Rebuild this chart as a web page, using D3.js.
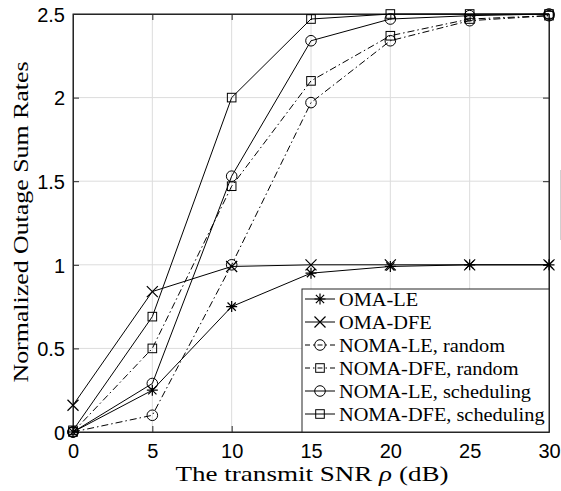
<!DOCTYPE html>
<html>
<head>
<meta charset="utf-8">
<script src="https://cdn.jsdelivr.net/npm/d3@7"></script>
<style>
  body { margin: 0; background: #fff; }
  svg { display: block; }
  .tick-label { font-family: "Liberation Sans", Arial, sans-serif; font-size: 20px; fill: #000; }
  .serif { font-family: "Liberation Serif", "Times New Roman", serif; fill: #000; }
</style>
</head>
<body>
<svg width="561" height="491"></svg>
<script>
const snr = [0, 5, 10, 15, 20, 25, 30];

const omaLE = [0, 0.25, 0.75, 0.95, 0.99, 1.0, 1.0];
const omaDFE = [0.16, 0.84, 0.99, 1.0, 1.0, 1.0, 1.0];
const nomaLERandom = [0, 0.10, 1.0, 1.97, 2.34, 2.46, 2.49];
const nomaDFERandom = [0, 0.50, 1.47, 2.10, 2.37, 2.47, 2.49];
const nomaLESched = [0, 0.29, 1.53, 2.34, 2.47, 2.49, 2.50];
const nomaDFESched = [0.01, 0.69, 2.0, 2.47, 2.50, 2.50, 2.50];

const xTicks = [0, 5, 10, 15, 20, 25, 30];
const yTicks = [0, 0.5, 1, 1.5, 2, 2.5];

const series = [
    {name: 'OMA-LE', values: omaLE, marker: 'star', dash: null},
    {name: 'OMA-DFE', values: omaDFE, marker: 'cross', dash: null},
    {name: 'NOMA-LE, random', values: nomaLERandom, marker: 'circle', dash: '7,3,1.5,3'},
    {name: 'NOMA-DFE, random', values: nomaDFERandom, marker: 'square', dash: '7,3,1.5,3'},
    {name: 'NOMA-LE, scheduling', values: nomaLESched, marker: 'circle', dash: null},
    {name: 'NOMA-DFE, scheduling', values: nomaDFESched, marker: 'square', dash: null}
];

const svg = d3.select('svg');
const margin = {left: 73, top: 14, right: 549, bottom: 432};

const x = d3.scaleLinear().domain([0, 30]).range([margin.left, margin.right]);
const y = d3.scaleLinear().domain([0, 2.5]).range([margin.bottom, margin.top]);

// grid
const grid = svg.append('g').attr('stroke', '#dcdcdc').attr('stroke-width', 1);
grid.selectAll('.gx').data(xTicks).enter().append('line')
    .attr('x1', d => x(d)).attr('x2', d => x(d))
    .attr('y1', margin.top).attr('y2', margin.bottom);
grid.selectAll('.gy').data(yTicks).enter().append('line')
    .attr('x1', margin.left).attr('x2', margin.right)
    .attr('y1', d => y(d)).attr('y2', d => y(d));

// axes, ticks inward
const tickLen = 6;
svg.append('g')
    .attr('transform', `translate(0,${margin.bottom})`)
    .call(d3.axisBottom(x).tickValues(xTicks).tickSizeInner(-tickLen).tickSizeOuter(0).tickPadding(12));
const axisLeft = svg.append('g')
    .attr('transform', `translate(${margin.left},0)`)
    .call(d3.axisLeft(y).tickValues(yTicks).tickFormat(d3.format('')).tickSizeInner(-tickLen).tickSizeOuter(0).tickPadding(8));
svg.append('g')
    .attr('transform', `translate(0,${margin.top})`)
    .call(d3.axisTop(x).tickValues(xTicks).tickSizeInner(-tickLen).tickSizeOuter(0).tickFormat(''));
svg.append('g')
    .attr('transform', `translate(${margin.right},0)`)
    .call(d3.axisRight(y).tickValues(yTicks).tickSizeInner(-tickLen).tickSizeOuter(0).tickFormat(''));

svg.selectAll('.domain').attr('stroke', '#262626');
svg.selectAll('.tick line').attr('stroke', '#262626');
svg.selectAll('.tick text').attr('class', 'tick-label').attr('fill', '#000');
axisLeft.selectAll('text').attr('dy', '0.36em');

// plot box
svg.append('rect')
    .attr('x', margin.left).attr('y', margin.top)
    .attr('width', margin.right - margin.left).attr('height', margin.bottom - margin.top)
    .attr('fill', 'none').attr('stroke', '#262626').attr('stroke-width', 1);

// markers
function drawMarker(g, type, cx, cy) {
    if (type === 'circle') {
        g.append('circle').attr('cx', cx).attr('cy', cy).attr('r', 5.3)
            .attr('fill', 'none').attr('stroke', '#000').attr('stroke-width', 1);
    } else if (type === 'square') {
        g.append('rect').attr('x', cx - 4.3).attr('y', cy - 4.3).attr('width', 8.6).attr('height', 8.6)
            .attr('fill', 'none').attr('stroke', '#000').attr('stroke-width', 1);
    } else if (type === 'cross') {
        const s = 5.5;
        g.append('path').attr('d', `M${cx - s},${cy - s}L${cx + s},${cy + s}M${cx - s},${cy + s}L${cx + s},${cy - s}`)
            .attr('stroke', '#000').attr('stroke-width', 1.2);
    } else if (type === 'star') {
        const s = 5.5, d = s * 0.75;
        g.append('path').attr('d', `M${cx - s},${cy}L${cx + s},${cy}M${cx},${cy - s}L${cx},${cy + s}` +
            `M${cx - d},${cy - d}L${cx + d},${cy + d}M${cx - d},${cy + d}L${cx + d},${cy - d}`)
            .attr('stroke', '#000').attr('stroke-width', 1.2);
    }
}

const line = d3.line().x((d, i) => x(snr[i])).y(d => y(d));

const lines = svg.append('g').attr('class', 'series');
series.forEach(s => {
    lines.append('path')
        .attr('d', line(s.values))
        .attr('fill', 'none')
        .attr('stroke', '#000')
        .attr('stroke-width', 1)
        .attr('stroke-dasharray', s.dash);
    const mg = lines.append('g');
    s.values.forEach((v, i) => drawMarker(mg, s.marker, x(snr[i]), y(v)));
});

// legend
const lg = svg.append('g').attr('class', 'legend');
const lx = 302, ly = 289, lw = margin.right - lx, lh = margin.bottom - ly;
lg.append('rect').attr('x', lx).attr('y', ly).attr('width', lw).attr('height', lh)
    .attr('fill', '#fff').attr('stroke', '#262626').attr('stroke-width', 1);
series.forEach((s, i) => {
    const ry = ly + 10 + i * 23;
    lg.append('line').attr('x1', lx + 3).attr('x2', lx + 33).attr('y1', ry).attr('y2', ry)
        .attr('stroke', '#000').attr('stroke-width', 1).attr('stroke-dasharray', s.dash ? '5,3,1.5,3' : null);
    const mg = lg.append('g');
    drawMarker(mg, s.marker, lx + 18, ry);
    const t = lg.append('text').attr('class', 'serif')
        .attr('x', lx + 37).attr('y', ry).attr('dy', '0.35em')
        .style('font-size', '19px')
        .text(s.name);
    // Computer Modern runs wider than Times
    const w = t.node().getComputedTextLength();
    t.attr('textLength', w * 1.07).attr('lengthAdjust', 'spacingAndGlyphs');
});

// axis titles
svg.append('text').attr('class', 'serif')
    .attr('x', (margin.left + margin.right) / 2 + 1).attr('y', 481)
    .attr('text-anchor', 'middle')
    .attr('textLength', 273).attr('lengthAdjust', 'spacingAndGlyphs')
    .style('font-size', '21px')
    .html('The transmit SNR <tspan font-style="italic">ρ</tspan> (dB)');

svg.append('text').attr('class', 'serif')
    .attr('transform', `translate(28,${(margin.top + margin.bottom) / 2 - 1}) rotate(-90)`)
    .attr('text-anchor', 'middle')
    .attr('textLength', 321).attr('lengthAdjust', 'spacingAndGlyphs')
    .style('font-size', '22px')
    .text('Normalized Outage Sum Rates');

// fragment of neighbouring figure at right edge
svg.append('line').attr('x1', 560.5).attr('x2', 560.5).attr('y1', 170).attr('y2', 240)
    .attr('stroke', '#d0d0d0').attr('stroke-width', 1);
</script>
</body>
</html>
